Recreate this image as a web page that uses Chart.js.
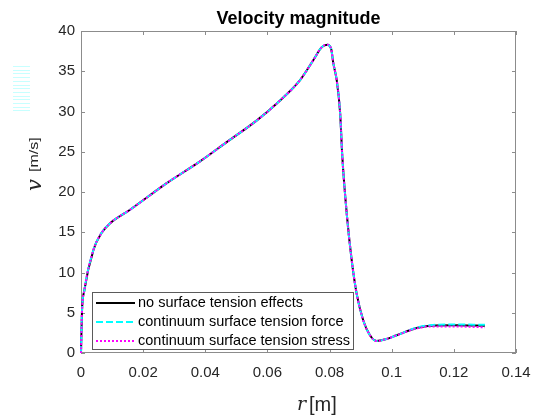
<!DOCTYPE html>
<html>
<head>
<meta charset="utf-8">
<script src="https://cdn.jsdelivr.net/npm/chart.js@4.4.0/dist/chart.umd.min.js"></script>
<style>
  html, body { margin: 0; padding: 0; background: #fff; }
</style>
</head>
<body>
<canvas id="myChart" width="535" height="417"></canvas>
<script>
// radial position r [m]
var radius = [0, 0.0003, 0.0011, 0.004, 0.0066, 0.0093, 0.0158, 0.0276, 0.0383, 0.0469, 0.0566, 0.063, 0.0705, 0.0748, 0.0775, 0.0793,
  0.0805, 0.0812, 0.0823, 0.0834, 0.0841, 0.0856, 0.0871, 0.0887, 0.0908, 0.093, 0.0951, 0.098, 0.1016, 0.108, 0.1124, 0.12, 0.13];

// velocity magnitude v [m/s]
var vNoTension = [0, 5, 7.8, 12.8, 14.9, 16.1, 17.8, 21.1, 23.8, 26.2, 28.9, 31.0, 33.9, 36.4, 38.0, 38.3,
  37.8, 36.0, 33.9, 29.8, 24.4, 17.0, 11.6, 7.4, 4.1, 2.2, 1.5, 1.7, 2.2, 3.1, 3.4, 3.45, 3.4];
var vForce = [0, 5, 7.8, 12.8, 14.9, 16.1, 17.8, 21.1, 23.8, 26.2, 28.9, 31.0, 33.9, 36.4, 38.0, 38.3,
  37.8, 36.0, 33.9, 29.8, 24.4, 17.0, 11.6, 7.4, 4.1, 2.2, 1.5, 1.7, 2.2, 3.15, 3.45, 3.55, 3.5];
var vStress = [0, 5, 7.8, 12.8, 14.9, 16.1, 17.8, 21.1, 23.8, 26.2, 28.9, 31.0, 33.9, 36.4, 38.0, 38.3,
  37.8, 36.0, 33.9, 29.8, 24.4, 17.0, 11.6, 7.4, 4.1, 2.2, 1.5, 1.7, 2.2, 3.05, 3.3, 3.3, 3.2];

var xTicks = [0, 0.02, 0.04, 0.06, 0.08, 0.1, 0.12, 0.14];
var yTicks = [0, 5, 10, 15, 20, 25, 30, 35, 40];

var seriesLabels = ['no surface tension effects', 'continuum surface tension force', 'continuum surface tension stress'];

function toPoints(ys) {
  return radius.map(function (r, i) { return { x: r, y: ys[i] }; });
}

var font = '"Liberation Sans", Arial, Helvetica, sans-serif';
var mathFont = '"DejaVu Serif", "Liberation Serif", serif';
var textColor = '#262626';
var axisColor = '#8c8c8c';

// box around the axes with inward ticks, like matlab
var boxPlugin = {
  id: 'box',
  beforeDatasetsDraw: function (chart) {
    var c = chart.ctx, a = chart.chartArea;
    var xs = chart.scales.x, ys = chart.scales.y;
    c.save();
    c.strokeStyle = axisColor;
    c.lineWidth = 1;
    c.strokeRect(a.left + 0.5, a.top + 0.5, a.right - a.left - 1, a.bottom - a.top - 1);
    c.beginPath();
    xTicks.forEach(function (t) {
      var px = Math.round(xs.getPixelForValue(t)) + 0.5;
      c.moveTo(px, a.bottom); c.lineTo(px, a.bottom - 4);
      c.moveTo(px, a.top); c.lineTo(px, a.top + 4);
    });
    yTicks.forEach(function (t) {
      var py = Math.round(ys.getPixelForValue(t)) + 0.5;
      c.moveTo(a.left, py); c.lineTo(a.left + 4, py);
      c.moveTo(a.right, py); c.lineTo(a.right - 4, py);
    });
    c.stroke();
    c.restore();
  },
  afterDraw: function (chart) {
    var c = chart.ctx;
    c.save();
    // faint cyan stripes left of the y label in the original picture
    c.strokeStyle = 'rgba(0,255,255,0.22)';
    c.lineWidth = 1;
    c.beginPath();
    for (var i = 0; i < 13; i++) {
      var y = Math.round(66 + i * 3.7) + 0.5;
      c.moveTo(13, y); c.lineTo(30, y);
    }
    c.stroke();

    // axis titles: italic symbol + unit
    c.fillStyle = textColor;
    c.textBaseline = 'alphabetic';
    c.textAlign = 'left';
    c.font = 'italic 19px ' + mathFont;
    c.fillText('r', 297, 410);
    c.font = '20px ' + font;
    c.fillText('[m]', 309, 411);

    c.translate(41, 192);
    c.rotate(-Math.PI / 2);
    c.font = 'italic 21px ' + mathFont;
    c.fillText('v', 1, 0);
    c.translate(20, -3);
    c.scale(1, 0.85);
    c.font = '16px ' + font;
    c.fillText('[m/s]', 0, 0);
    c.restore();

    // legend box
    c.save();
    var lx = 92.5, ly = 292.5, lw = 261, lh = 57;
    c.fillStyle = '#fff';
    c.fillRect(lx, ly, lw, lh);
    c.strokeStyle = '#5a5a5a';
    c.lineWidth = 1;
    c.strokeRect(lx, ly, lw, lh);
    var rows = [303, 322, 341];
    chart.data.datasets.forEach(function (ds, i) {
      c.beginPath();
      c.strokeStyle = ds.borderColor;
      c.lineWidth = ds.borderWidth;
      c.setLineDash(ds.borderDash || []);
      c.moveTo(96, rows[i]); c.lineTo(135, rows[i]);
      c.stroke();
      c.setLineDash([]);
      c.fillStyle = '#000';
      c.font = '14.5px ' + font;
      c.textBaseline = 'middle';
      c.fillText(ds.label, 138, rows[i]);
    });
    c.restore();
  }
};

var ctx = document.getElementById('myChart').getContext('2d');
var myChart = new Chart(ctx, {
  type: 'line',
  data: {
    datasets: [{
        data: toPoints(vNoTension),
        label: seriesLabels[0],
        borderColor: '#000000',
        borderWidth: 2,
        order: 3,
      }, {
        data: toPoints(vForce),
        label: seriesLabels[1],
        borderColor: '#00ffff',
        borderWidth: 2,
        borderDash: [7, 3],
        order: 2,
      }, {
        data: toPoints(vStress),
        label: seriesLabels[2],
        borderColor: '#ff00ff',
        borderWidth: 2,
        borderDash: [2, 2],
        order: 1,
      }
    ]
  },
  options: {
    responsive: false,
    animation: false,
    devicePixelRatio: 1,
    layout: { padding: { left: 0, right: 19, top: 0, bottom: 0 } },
    elements: {
      point: { radius: 0 },
      line: { cubicInterpolationMode: 'monotone', fill: false }
    },
    datasets: { line: { clip: 4 } },
    plugins: {
      legend: { display: false },
      tooltip: { enabled: false },
      title: {
        display: true,
        fullSize: false,
        text: 'Velocity magnitude',
        color: '#000',
        padding: { top: 8, bottom: 1.4 },
        font: { family: font, size: 18, weight: 'bold' }
      }
    },
    scales: {
      x: {
        type: 'linear',
        min: 0,
        max: 0.14,
        afterFit: function (scale) {
          scale.height = 64;
          scale.paddingLeft = 0;
          scale.paddingRight = 0;
        },
        afterBuildTicks: function (scale) {
          scale.ticks = xTicks.map(function (v) { return { value: v }; });
        },
        grid: { display: false, drawTicks: false },
        border: { display: false },
        ticks: {
          padding: 11,
          color: textColor,
          maxRotation: 0,
          autoSkip: false,
          font: { family: font, size: 15 },
          callback: function (v) { return String(Number(v.toFixed(2))); }
        }
      },
      y: {
        min: 0,
        max: 40,
        afterFit: function (scale) {
          scale.width = 81;
          scale.paddingTop = 0;
          scale.paddingBottom = 0;
        },
        afterBuildTicks: function (scale) {
          scale.ticks = yTicks.map(function (v) { return { value: v }; });
        },
        grid: { display: false, drawTicks: false },
        border: { display: false },
        ticks: {
          padding: 6,
          color: textColor,
          font: { family: font, size: 15 }
        }
      }
    }
  },
  plugins: [boxPlugin]
});
</script>
</body>
</html>
